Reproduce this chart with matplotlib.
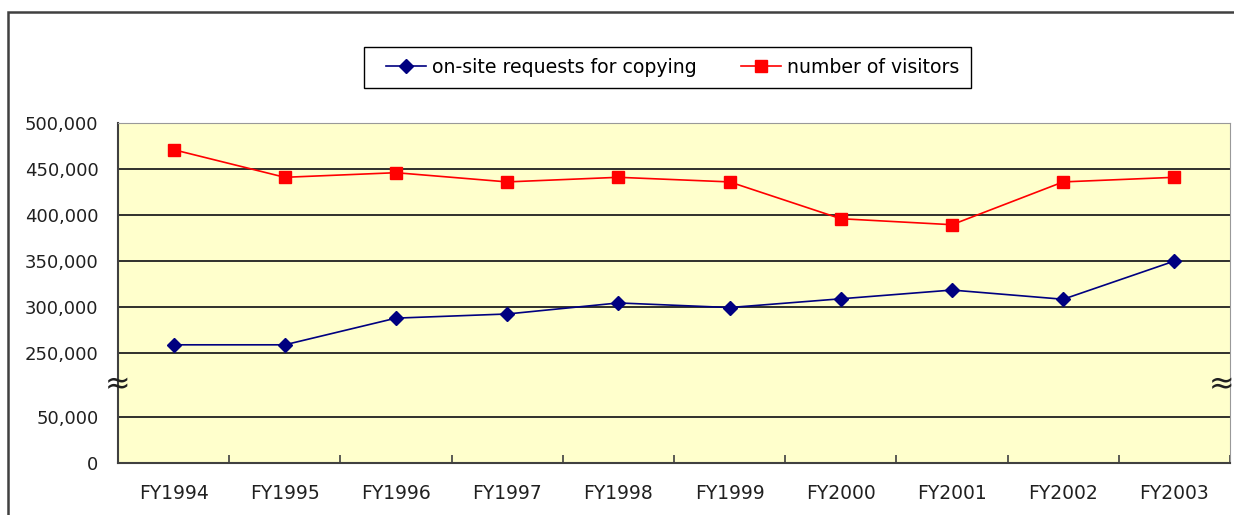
import numpy as np
import matplotlib.pyplot as plt
from matplotlib.patches import Rectangle

categories = ["FY1994", "FY1995", "FY1996", "FY1997", "FY1998",
              "FY1999", "FY2000", "FY2001", "FY2002", "FY2003"]
copying = [259000, 259000, 288000, 292500, 304500, 299500, 309000, 318500, 308500, 350000]
visitors = [471000, 441000, 446000, 436000, 441000, 436000, 396000, 389500, 436000, 441000]
ytick_values = [0, 50000, 250000, 300000, 350000, 400000, 450000, 500000]
ytick_labels = ["0", "50,000", "250,000", "300,000", "350,000", "400,000", "450,000", "500,000"]

# broken y axis: 50,000 .. 250,000 squeezed into a short gap
raw = [-1e6, 0, 50000, 250000, 500000, 2e6]
squeezed = [-1e6, 0, 50000, 119400, 369400, 1869400]


def fwd(v):
    return np.interp(v, raw, squeezed)


def inv(u):
    return np.interp(u, squeezed, raw)


plt.rcParams['font.family'] = ['DejaVu Sans']
W, H = 1234, 515

fig = plt.figure(figsize=(W / 100, H / 100), dpi=100)
ax = fig.add_axes([118 / W, 1 - 463 / H, (1230 - 118) / W, (463 - 123) / H])
ax.set_facecolor("#FFFFCC")
ax.set_yscale("function", functions=(fwd, inv))
ax.set_ylim(0, 500000)
ax.set_xlim(-0.5, len(categories) - 0.5)

x = np.arange(len(categories))
for v in ytick_values[1:-1]:
    ax.axhline(v, color="#202020", linewidth=1.3, zorder=1)

ax.plot(x, copying, color="#000080", linewidth=1.2, marker="D", markersize=7,
        markerfacecolor="#000080", markeredgecolor="#000080",
        label="on-site requests for copying", zorder=3)
ax.plot(x, visitors, color="#FF0000", linewidth=1.2, marker="s", markersize=8,
        markerfacecolor="#FF0000", markeredgecolor="#FF0000",
        label="number of visitors", zorder=3)

ax.set_yticks(ytick_values)
ax.set_yticklabels(ytick_labels)
ax.yaxis.set_minor_locator(plt.NullLocator())
ax.tick_params(axis="y", length=0, pad=14, labelsize=13, colors="#202020")

ax.set_xticks(x)
ax.set_xticklabels(categories)
ax.set_xticks(np.arange(len(categories) + 1) - 0.5, minor=True)
ax.tick_params(axis="x", which="major", length=0, pad=15, labelsize=13.5, colors="#202020")
ax.tick_params(axis="x", which="minor", direction="in", length=6, width=1.2, color="#404040")

for side in ["left", "bottom"]:
    ax.spines[side].set_color("#404040")
    ax.spines[side].set_linewidth(1.5)
for side in ["top", "right"]:
    ax.spines[side].set_color("#999999")
    ax.spines[side].set_linewidth(0.8)
    ax.spines[side].set_linestyle((0, (1, 1)))

# axis break marks
for xa in (0, (1222 - 118) / (1230 - 118)):
    ax.text(xa, 150000, "≈", transform=ax.get_yaxis_transform(), ha="center", va="center",
            fontsize=22, color="#202020", zorder=5, clip_on=False)

fig.legend(loc="center", bbox_to_anchor=(672.7 / W, 1 - 67.5 / H), ncol=2,
           frameon=False, fontsize=13.6, handlelength=2.1, columnspacing=2.35,
           borderpad=0, handletextpad=0.32)
fig.patches.append(Rectangle((364 / W, 1 - 88 / H), (971 - 364) / W, 41 / H,
                             transform=fig.transFigure, fill=False,
                             edgecolor="black", linewidth=1.0))

# outer chart border
fig.patches.append(Rectangle((8 / W, -0.1), 1.2, 1 - 12 / H + 0.1, transform=fig.transFigure,
                             fill=False, edgecolor="#404040", linewidth=1.8))

fig.savefig("out.png", dpi=100)
